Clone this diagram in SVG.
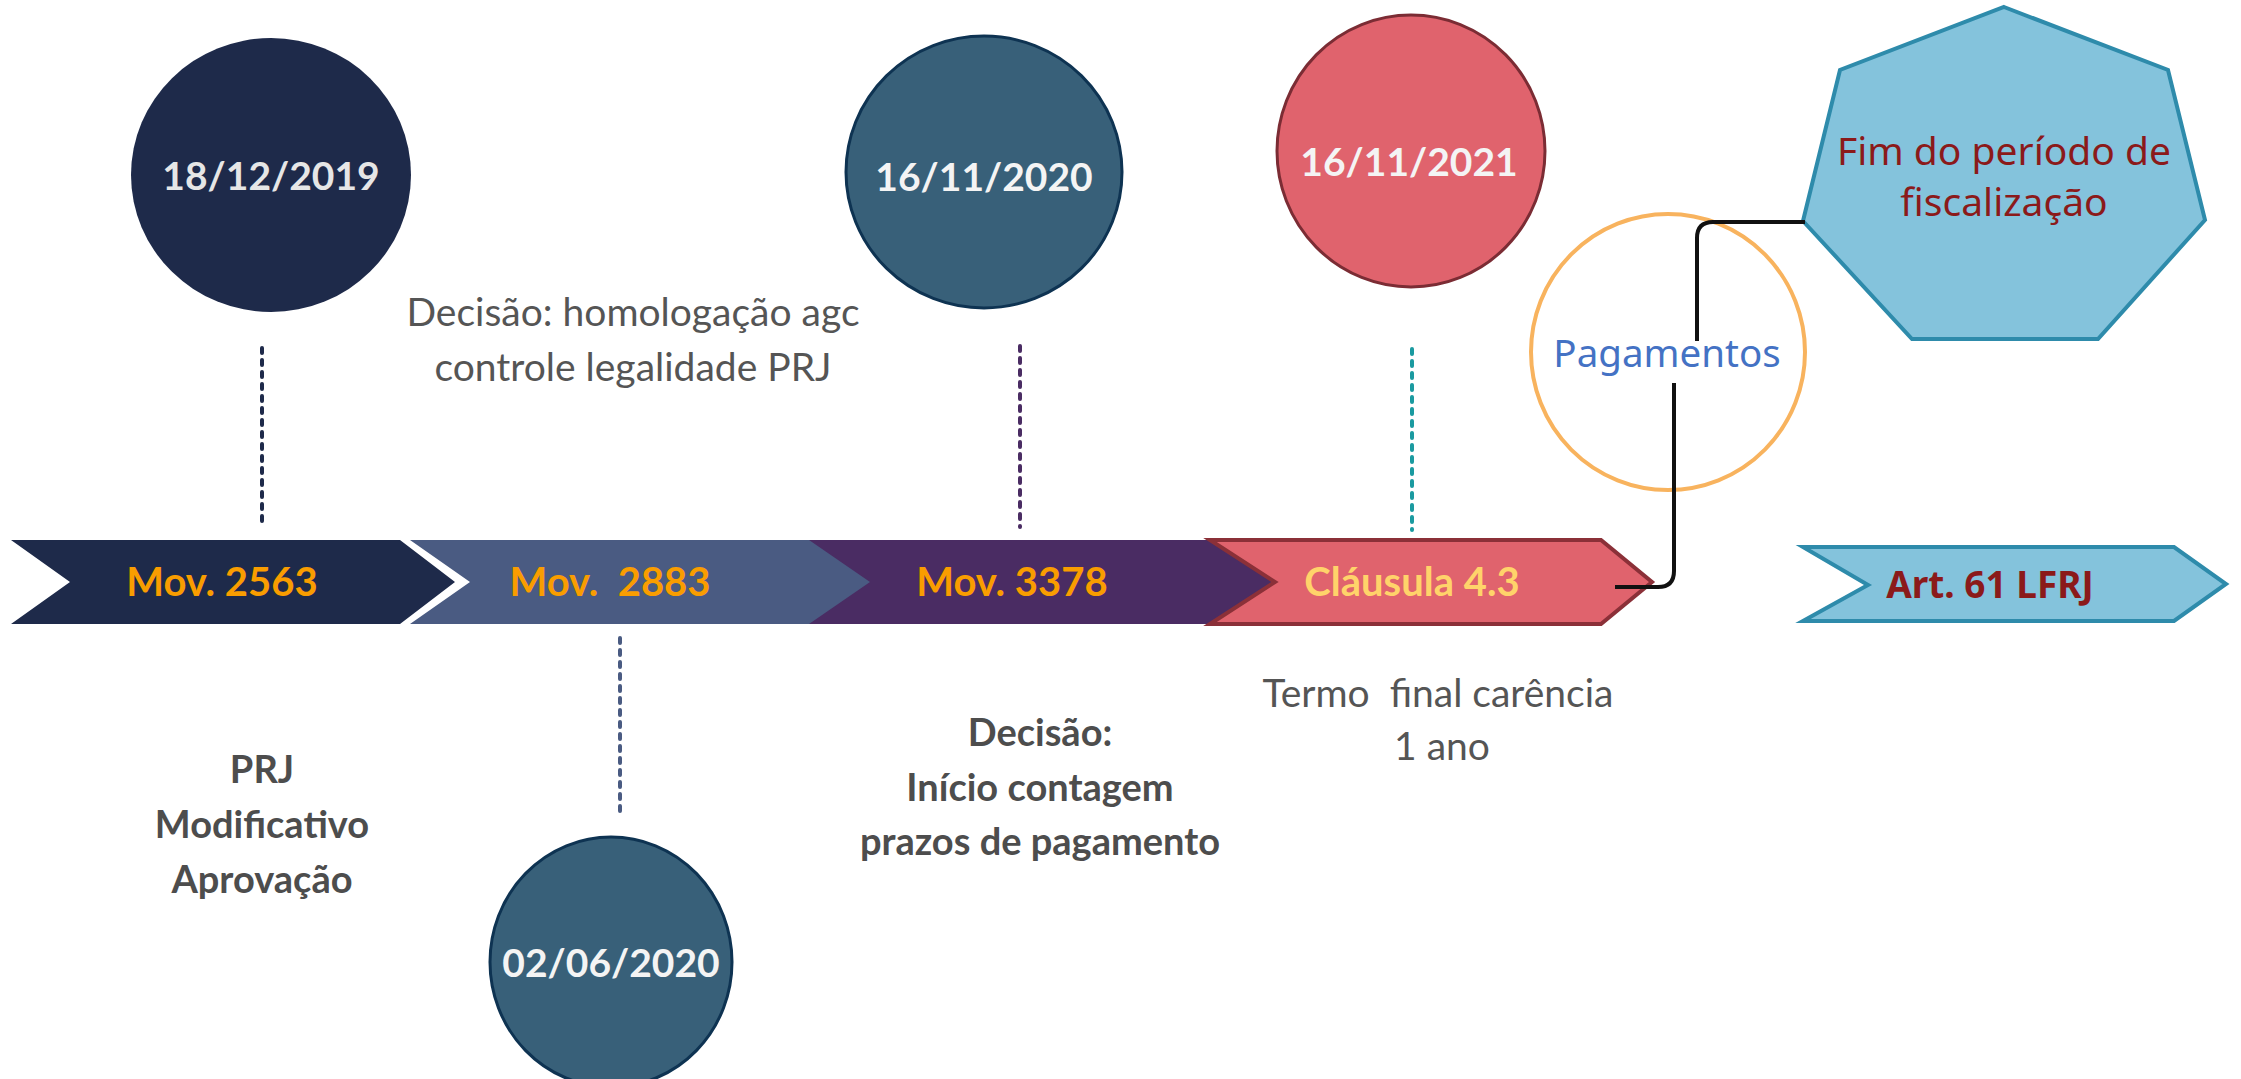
<svg xmlns="http://www.w3.org/2000/svg" width="2241" height="1079" viewBox="0 0 2241 1079">
<style>
.lato{font-family:Lato,"Liberation Sans",sans-serif}
.noto{font-family:"Noto Sans","Open Sans","DejaVu Sans",sans-serif}
.date{font-family:Lato,"Liberation Sans",sans-serif;font-weight:bold;font-size:39px;text-anchor:middle;fill:#f4f4f4}
.mov{font-family:Lato,"Liberation Sans",sans-serif;font-weight:bold;font-size:40px;text-anchor:middle;fill:#f99d00}
.gray{font-family:Lato,"Liberation Sans",sans-serif;font-size:39px;text-anchor:middle;fill:#555555}
.grayb{font-family:Lato,"Liberation Sans",sans-serif;font-weight:bold;font-size:38px;text-anchor:middle;fill:#4d4d4d}
.dash{fill:none;stroke-width:4;stroke-linecap:round;stroke-dasharray:5 7}
</style>
<rect width="2241" height="1079" fill="#ffffff"/>

<g id="timeline">
  <g id="chev3"><polygon points="800,540 1210,540 1275,582 1210,624 800,624" fill="#4a2c63"/><text class="mov" x="1012" y="596">Mov. 3378</text></g>
  <g id="chev2"><polygon points="410,540 809,540 870,582 809,624 410,624 470,582" fill="#4a5b82"/><text class="mov" x="610" y="596" xml:space="preserve">Mov.  2883</text></g>
  <g id="chev1"><polygon points="11,540 400,540 455,582 400,624 11,624 70,582" fill="#1e2a4a"/><text class="mov" x="222" y="596">Mov. 2563</text></g>
  <g id="chev4"><polygon points="1210,540 1601,540 1652,582 1601,624 1210,624 1275,582" fill="#e0636d" stroke="#8b3038" stroke-width="4" stroke-linejoin="miter"/><text class="mov" x="1412" y="596" style="fill:#ffd36a">Cláusula 4.3</text></g>
</g>

<g id="art61">
  <polygon points="1803,547 2174,547 2226,584 2174,621 1803,621 1868,585" fill="#84c3dc" stroke="#2e8bab" stroke-width="4"/>
  <text class="noto" x="1990" y="598" font-size="37" font-weight="bold" text-anchor="middle" fill="#8b1a1a">Art. 61 LFRJ</text>
</g>

<g id="date1">
  <ellipse cx="271" cy="175" rx="140" ry="137" fill="#1e2a4a"/>
  <text class="date" x="271" y="190" style="fill:#e6e6e6">18/12/2019</text>
</g>
<g id="date2">
  <ellipse cx="984" cy="172" rx="138" ry="136" fill="#386079" stroke="#0e3352" stroke-width="3"/>
  <text class="date" x="984" y="191">16/11/2020</text>
</g>
<g id="date3">
  <ellipse cx="1411" cy="151" rx="134" ry="136" fill="#e0636d" stroke="#7b2c34" stroke-width="3"/>
  <text class="date" x="1409" y="176">16/11/2021</text>
</g>
<g id="date4">
  <ellipse cx="611" cy="962" rx="121" ry="125" fill="#386079" stroke="#0e3352" stroke-width="3"/>
  <text class="date" x="611" y="977">02/06/2020</text>
</g>

<g id="pagamentos">
  <ellipse cx="1668" cy="352" rx="137" ry="138" fill="none" stroke="#f8b35e" stroke-width="4"/>
  <text class="noto" x="1667" y="367" font-size="38.5" text-anchor="middle" fill="#4472c4">Pagamentos</text>
</g>

<g id="fim">
  <polygon points="2004,7 2168,70 2205,220 2098,339 1912,339 1803,221 1840,70" fill="#84c3dc" stroke="#2e8bab" stroke-width="4" stroke-linejoin="miter"/>
  <text class="noto" font-size="39" text-anchor="middle" fill="#8b1a1a"><tspan x="2004" y="165">Fim do período de</tspan><tspan x="2004" y="216">fiscalização</tspan></text>
</g>

<g id="label-homologacao">
  <text class="gray"><tspan x="633" y="326">Decisão: homologação agc</tspan><tspan x="633" y="381">controle legalidade PRJ</tspan></text>
</g>
<g id="label-prj">
  <text class="grayb"><tspan x="262" y="783">PRJ</tspan><tspan x="262" y="838">Modificativo</tspan><tspan x="262" y="893">Aprovação</tspan></text>
</g>
<g id="label-inicio">
  <text class="grayb"><tspan x="1040" y="746">Decisão:</tspan><tspan x="1040" y="801">Início contagem</tspan><tspan x="1040" y="855">prazos de pagamento</tspan></text>
</g>
<g id="label-termo">
  <text class="gray" xml:space="preserve"><tspan x="1438" y="707">Termo  final carência</tspan><tspan x="1442" y="760">1 ano</tspan></text>
</g>

<g id="connectors">
  <line class="dash" x1="262" y1="348" x2="262" y2="525" stroke="#1e2a4a"/>
  <line class="dash" x1="620" y1="638" x2="620" y2="815" stroke="#4a5b82"/>
  <line class="dash" x1="1020" y1="346" x2="1020" y2="527" stroke="#4a2c63"/>
  <line class="dash" x1="1412" y1="349" x2="1412" y2="530" stroke="#1a9aa0"/>
  <path d="M1615,587 H1658 Q1674,587 1674,571 V383 M1697,341 V238 Q1697,222 1713,222 H1805" fill="none" stroke="#111111" stroke-width="4"/>
</g>
</svg>
